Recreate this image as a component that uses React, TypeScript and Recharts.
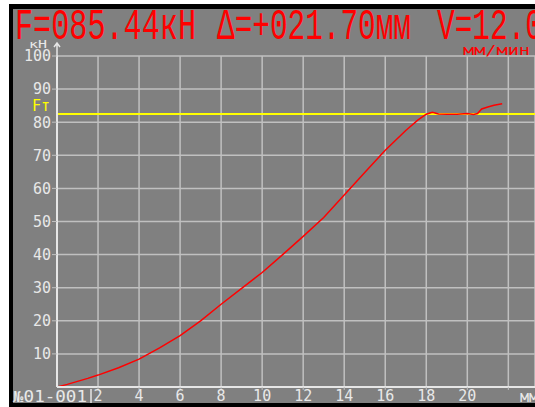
import { LineChart, Line, XAxis, YAxis, CartesianGrid, ReferenceLine } from 'recharts';

// displacement, mm
const distance = [0, 0.5, 1, 1.5, 2, 3, 4, 5, 6, 7, 8, 9, 10, 11, 12, 13, 14, 15, 16, 17, 17.6, 18, 18.3, 18.6, 19, 19.5, 20, 20.3, 20.5, 20.7, 21, 21.3, 21.7];
// force, kN
const force = [0, 0.8, 1.7, 2.6, 3.6, 5.8, 8.4, 11.8, 15.5, 20, 25, 29.8, 34.6, 40, 45.5, 51.2, 58, 64.8, 71.5, 77.5, 80.7, 82.4, 83, 82.5, 82.4, 82.4, 82.6, 82.3, 82.6, 84, 84.6, 85.1, 85.6];

const xTicks = [2, 4, 6, 8, 10, 12, 14, 16, 18, 20, 22];
const yTicks = [10, 20, 30, 40, 50, 60, 70, 80, 90, 100];
const limitForce = 82.5;

const header = [
  { text: 'F=085.44кН', x: 15, width: 181 },
  { text: 'Δ=+021.70мм', x: 217, width: 194 },
  { text: 'V=12.0', x: 437, width: 106 },
];

const MONO = '"DejaVu Sans Mono", monospace';
const HEAD = '"Liberation Mono", "DejaVu Sans Mono", monospace';
const BG = '#808080';
const GRID = '#c0c0c0';
const LABEL = '#e8e8e8';

export default function App() {
  const data = distance.map((x, i) => ({ x, v: force[i] }));

  return (
    <div style={{ position: 'absolute', left: 0, top: 0, width: 535, height: 407, background: '#fff', overflow: 'hidden' }}>
      <div style={{ position: 'absolute', left: 9, top: 4, width: 526, height: 403, background: '#000' }} />
      <div style={{ position: 'absolute', left: 13, top: 9, width: 522, height: 394, background: BG }} />

      <div style={{ position: 'absolute', left: 0, top: 0 }}>
        <LineChart width={535} height={407} data={data} margin={{ top: 56, right: 0, bottom: 0, left: 0 }}>
          <CartesianGrid stroke={GRID} strokeWidth={1.5} />
          <XAxis
            type="number"
            dataKey="x"
            domain={[0, 23.3]}
            ticks={xTicks}
            allowDataOverflow
            height={20}
            tickSize={3}
            tickMargin={0}
            axisLine={{ stroke: '#e6e6e6', strokeWidth: 2 }}
            tickLine={{ stroke: GRID }}
            tickFormatter={(v) => (v === 22 ? '' : String(v))}
            tick={{ fill: LABEL, fontSize: 15, fontFamily: MONO }}
          />
          <YAxis
            type="number"
            domain={[0, 100]}
            ticks={yTicks}
            width={57}
            tickSize={5}
            tickMargin={1}
            axisLine={{ stroke: '#e6e6e6', strokeWidth: 2 }}
            tickLine={{ stroke: GRID }}
            tick={{ fill: LABEL, fontSize: 15, fontFamily: MONO }}
          />
          <ReferenceLine
            y={limitForce}
            stroke="#ffff00"
            strokeWidth={2}
            label={(props: any) => {
              const vb = props.viewBox || {};
              return (
                <text x={vb.x - 7} y={vb.y - 3} textAnchor="end" fill="#ffff00" fontSize={15} fontFamily={MONO}>
                  Fт
                </text>
              );
            }}
          />
          <Line
            type="linear"
            dataKey="v"
            stroke="#ff0000"
            strokeWidth={1.5}
            dot={false}
            isAnimationActive={false}
          />
        </LineChart>
      </div>

      <svg width={535} height={407} style={{ position: 'absolute', left: 0, top: 0, pointerEvents: 'none' }}>
        {header.map((h) => (
          <text
            key={h.text}
            x={h.x}
            y={39}
            fill="#ff0000"
            fontSize={44}
            fontFamily={HEAD}
            textLength={h.width}
            lengthAdjust="spacingAndGlyphs"
          >
            {h.text}
          </text>
        ))}
        <text x={463} y={55} fill="#ff0000" fontSize={14} fontFamily={MONO} textLength={67} lengthAdjust="spacingAndGlyphs">
          мм/мин
        </text>
        <text x={29} y={48} fill={LABEL} fontSize={11} fontFamily={MONO} textLength={18} lengthAdjust="spacingAndGlyphs">
          кН
        </text>
        <path d="M57 56 L57 43 M54 47 L57 43 L60 47" stroke="#e6e6e6" strokeWidth={1.5} fill="none" />
        <text x={13} y={402} fill={LABEL} fontSize={15} fontFamily={MONO} textLength={74} lengthAdjust="spacingAndGlyphs">
          №01-001
        </text>
        <path d="M91 389 L91 403" stroke="#e6e6e6" strokeWidth={1.5} />
        <text x={520} y={402} fill={LABEL} fontSize={15} fontFamily={MONO}>
          мм
        </text>
      </svg>
    </div>
  );
}
